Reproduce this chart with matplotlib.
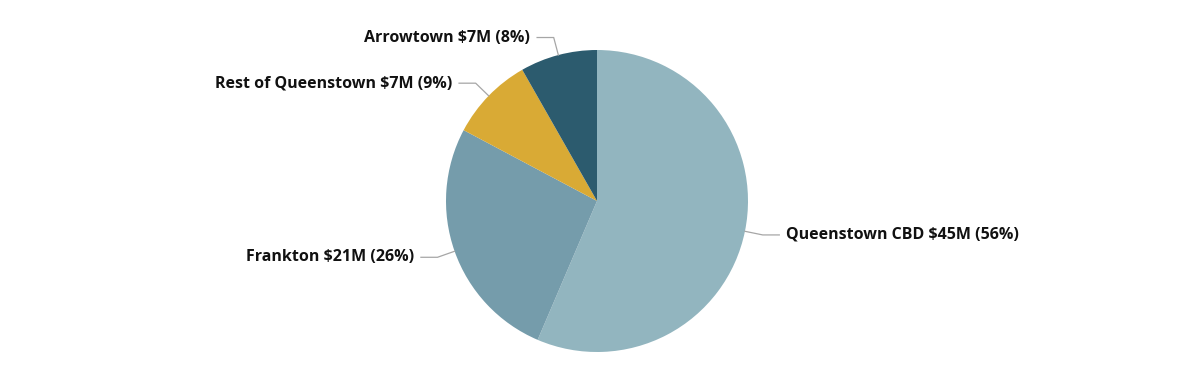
import numpy as np
import matplotlib.pyplot as plt

regions = ["Queenstown CBD", "Frankton", "Rest of Queenstown", "Arrowtown"]
spend_m = [45.2, 21.1, 7.2, 6.6]
colors = ["#92b5bf", "#759cab", "#d9aa35", "#2c5b6e"]

plt.rcParams['font.family'] = ['Open Sans', 'DejaVu Sans']

fig = plt.figure(figsize=(11.96, 3.65), dpi=100)
ax = fig.add_axes([0, 0, 1, 1])
R = 151.0
cx, cy = 597.0, 201.0

wedges, _ = ax.pie(spend_m, colors=colors, startangle=90, counterclock=False,
                   radius=1.0, wedgeprops=dict(linewidth=0))
ax.set_xlim(-cx / R, (1196 - cx) / R)
ax.set_ylim(-(365 - cy) / R, cy / R)
ax.set_aspect('auto')
ax.axis('off')

total = sum(spend_m)
for w, name, v in zip(wedges, regions, spend_m):
    ang = np.deg2rad((w.theta1 + w.theta2) / 2)
    x0, y0 = np.cos(ang), np.sin(ang)
    x1, y1 = 1.12 * x0, 1.12 * y0
    side = 1 if x0 > 0 else -1
    x2 = x1 + side * 0.11
    ax.plot([x0, x1, x2], [y0, y1, y1], color="#a6a6a6", lw=0.9)
    label = f"{name} ${v:.0f}M ({v / total * 100:.0f}%)"
    ax.text(x2 + side * 0.045, y1, label, ha='left' if side > 0 else 'right',
            va='center', fontsize=11.5, fontweight='bold', color="#111111")

fig.savefig("out.png", dpi=100)
